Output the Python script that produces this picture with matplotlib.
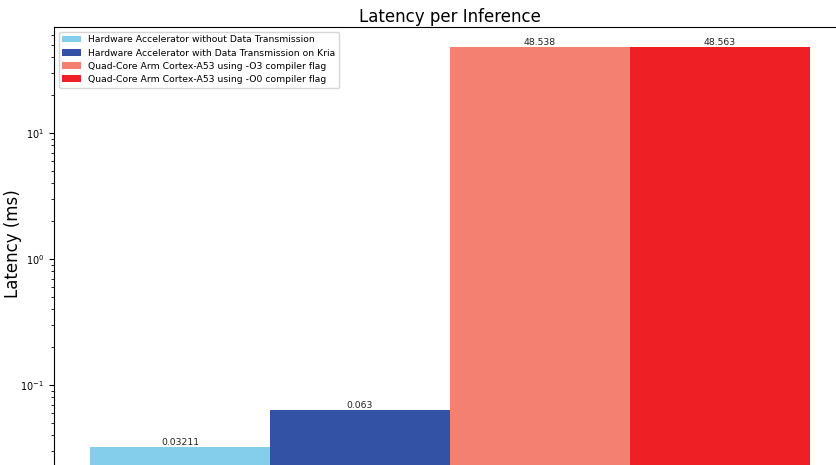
import matplotlib.pyplot as plt
import numpy as np

labels = ['Hardware Accelerator without Data Transmission',
          'Hardware Accelerator with Data Transmission on Kria',
          'Quad-Core Arm Cortex-A53 using -O3 compiler flag',
          'Quad-Core Arm Cortex-A53 using -O0 compiler flag']
latency = [0.03211, 0.063, 48.538, 48.563]
colors = ['#84CDEB', '#3452A5', '#F48072', '#EE1F25']

fig = plt.figure(figsize=(8.37, 4.65), dpi=100)
ax = fig.add_axes([0.0645, -0.0512, 0.9462, 0.993])

x = np.arange(len(latency))
bars = ax.bar(x, latency, width=1.0, color=colors, label=labels)
ax.bar_label(bars, labels=['%g' % v for v in latency], fontsize=6.7, color='#222222')

ax.set_yscale('log')
ax.set_ylim(0.015, 69.3)
ax.set_xlim(-0.7, 3.7)
ax.set_xticks([])
ax.tick_params(axis='y', labelsize=7)
ax.set_ylabel('Latency (ms)', fontsize=12)
ax.yaxis.set_label_coords(-0.041, 0.53)
ax.set_title('Latency per Inference', fontsize=12, pad=4)
ax.legend(loc='upper left', fontsize=6.7, labelspacing=0.45)

fig.savefig('out.png', dpi=100)
